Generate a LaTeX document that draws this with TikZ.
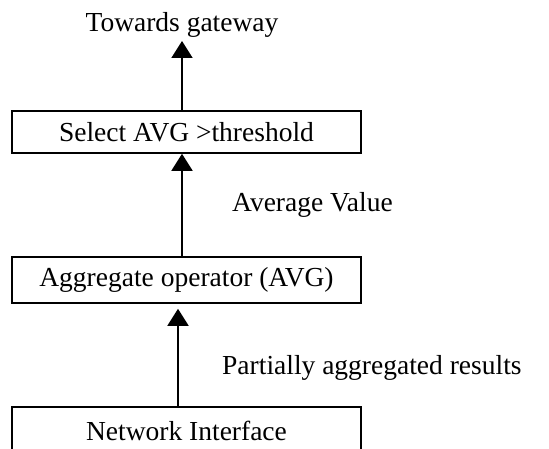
\documentclass[tikz,border=0pt]{standalone}
\usepackage{fontspec}
\setmainfont{Liberation Serif}
\usetikzlibrary{arrows.meta}
\begin{document}
\begin{tikzpicture}[x=1pt,y=1pt,
  box/.style={draw,line width=1.6pt,minimum width=349pt,inner sep=0pt,font=\fontsize{27.5}{31}\selectfont},
  lbl/.style={font=\fontsize{27.5}{31}\selectfont,inner sep=0pt},
  arr/.style={line width=1.8pt,-{Triangle[length=17pt,width=21pt]}}]
\useasboundingbox (0,0) rectangle (549,449);
\clip (0,0) rectangle (549,449);
\node[box,minimum height=42pt] (sel) at (186.5,317) {Select AVG >threshold};
\node[box,minimum height=46pt] (agg) at (186.5,169) {Aggregate operator (AVG)};
\node[box,minimum height=50pt] (net) at (186.5,17) {\raisebox{3pt}{Network Interface}};
\coordinate (gw) at (182,408);
\node[lbl] (tg) at (182,424) {Towards gateway};
\node[lbl,anchor=west] (av) at (232,244) {Average Value};
\node[lbl,anchor=west] (pa) at (222,81) {Partially aggregated results};
\draw[arr] (sel.north -| gw) -- (gw);
\draw[arr] (agg.north -| gw) -- (sel.south -| gw);
\draw[arr] ([xshift=-8.5pt]net.north) -- ([xshift=-8.5pt,yshift=-5pt]agg.south);
\end{tikzpicture}
\end{document}
